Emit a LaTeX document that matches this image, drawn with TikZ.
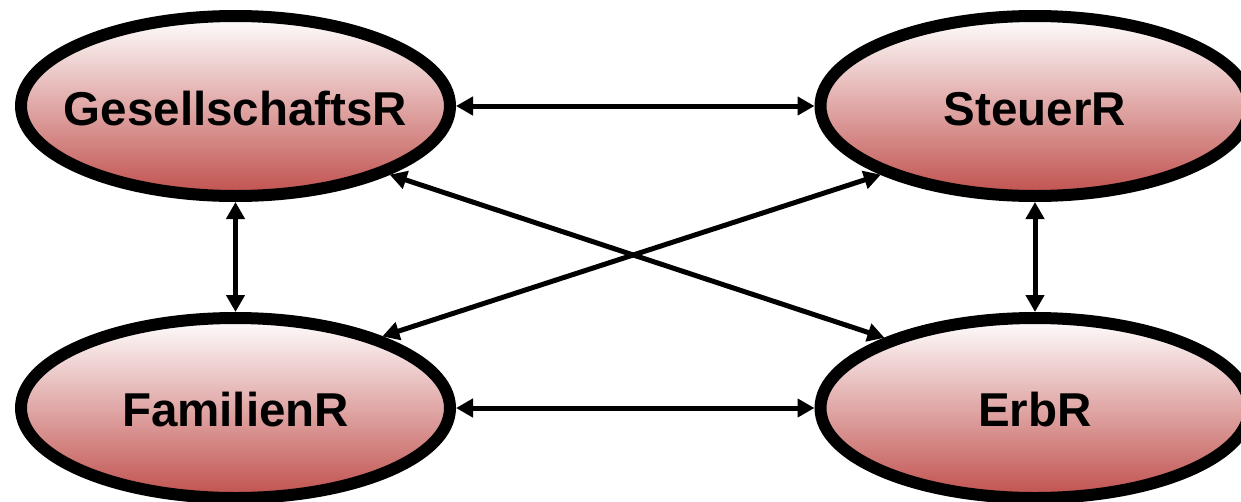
\documentclass[tikz,border=0pt]{standalone}
\usepackage{fontspec}
\setmainfont{Liberation Sans}
\usetikzlibrary{arrows.meta,shapes.geometric}
\definecolor{ellred}{HTML}{C0504D}
\tikzset{
  ell/.style={ellipse, draw=black, line width=12pt, minimum width=429pt, minimum height=180pt,
    inner sep=0pt, top color=white, bottom color=ellred},
  lbl/.style={font=\fontsize{47.5}{57}\selectfont\bfseries, inner sep=0pt},
  link/.style={line width=5pt, {Triangle[length=17pt,width=18pt]}-{Triangle[length=17pt,width=18pt]}}
}
\begin{document}
\begin{tikzpicture}[x=1pt,y=-1pt]
\useasboundingbox (0,0) rectangle (1241,501);
\node[ell] (g) at (235.5,106) {};
\node[ell] (s) at (1035,106) {};
\node[ell] (f) at (235.5,408) {};
\node[ell] (e) at (1035,408) {};
\node[lbl] (gt) at (235.5,109) {GesellschaftsR};
\node[lbl] (st) at (1035,109) {SteuerR};
\node[lbl] (ft) at (235.5,410) {FamilienR};
\node[lbl] (et) at (1035,410) {ErbR};
\draw[link] (g.east) -- (s.west);
\draw[link] (f.east) -- (e.west);
\draw[link] (g.south) -- (f.north);
\draw[link] (s.south) -- (e.north);
\draw[link] (g.-24) -- (e.155);
\draw[link] (s.-156) -- (f.26);
\end{tikzpicture}
\end{document}
